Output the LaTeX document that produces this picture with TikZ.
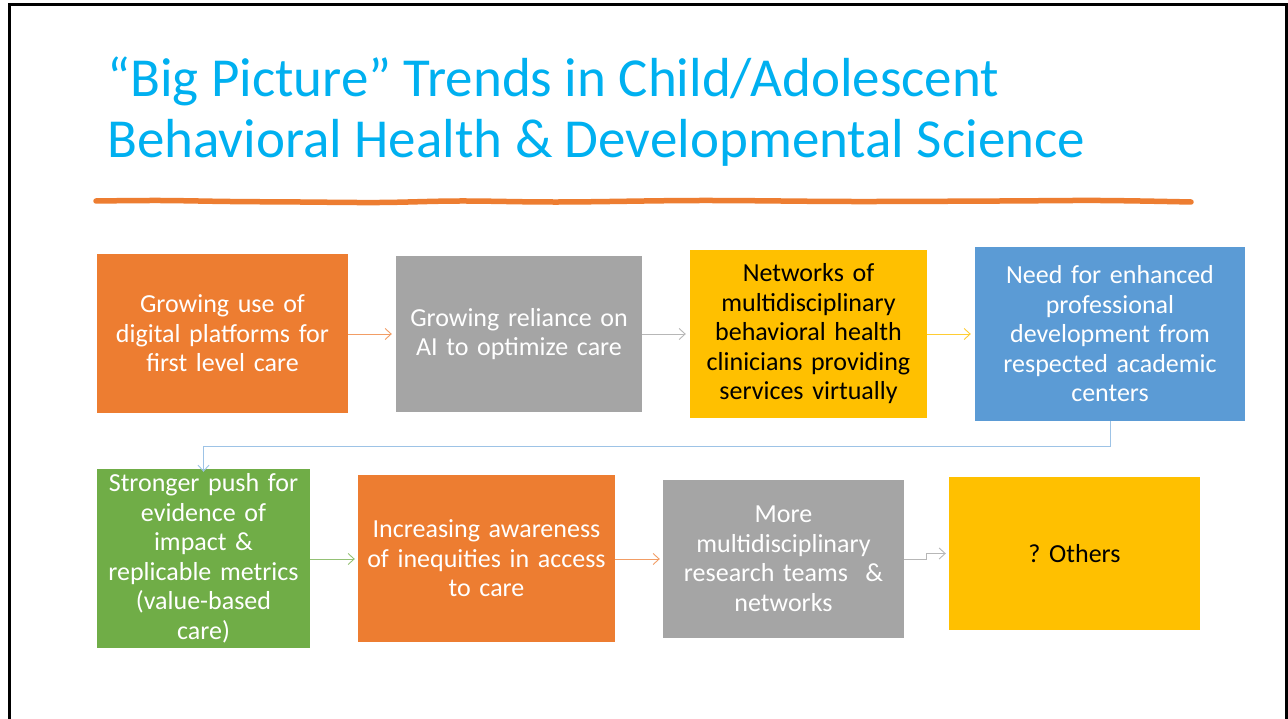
\documentclass[tikz,border=0pt]{standalone}
\usepackage{fontspec}
\setmainfont{Carlito}
\frenchspacing
\usetikzlibrary{arrows.meta}
\definecolor{cOrange}{HTML}{ED7D31}
\definecolor{cGray}{HTML}{A5A5A5}
\definecolor{cGold}{HTML}{FFC000}
\definecolor{cBlue}{HTML}{5B9BD5}
\definecolor{cGreen}{HTML}{70AD47}
\definecolor{cTitle}{HTML}{00B0F0}
\definecolor{cLink}{HTML}{9DC3E6}
\tikzset{
  trendbox/.style={draw=none, inner sep=0pt, align=center, font=\fontsize{26}{29.5}\selectfont},
  wtext/.style={text=white},
  btext/.style={text=black},
  titletext/.style={anchor=base west, inner sep=0pt, text=cTitle, font=\fontsize{55}{60}\selectfont},
  link/.style={line width=0.9pt, -{Straight Barb[length=6pt,width=11pt,line width=0.9pt]}},
}
\begin{document}
\begin{tikzpicture}[x=1pt,y=-1pt]
\useasboundingbox (0,0) rectangle (1288,719);
\fill[white] (0,0) rectangle (1288,719);
% slide frame
\draw[line width=3pt] (9,730) -- (9,5) -- (1286,5) -- (1286,730);
% title
\node[titletext] (t1) at (107,97) {“Big Picture” Trends in Child/Adolescent};
\node[titletext] (t2) at (107,158) {Behavioral Health \& Developmental Science};
% orange wavy rule
\draw[cOrange, line width=5.5pt, line cap=round] plot[smooth, tension=0.6] coordinates {(96,201) (160,200.5) (230,201.5) (300,202) (380,202.5) (460,201) (560,202) (700,200.5) (850,201.5) (1000,201) (1100,200.5) (1191,202)};
% row 1
\node[trendbox, wtext, fill=cOrange, minimum width=251pt, minimum height=159pt, text width=240pt] (b1) at (222.5,333.5) {Growing use of\\digital platforms for\\first level care};
\node[trendbox, wtext, fill=cGray, minimum width=246pt, minimum height=156pt, text width=240pt] (b2) at (519,334) {Growing reliance on\\AI to optimize care};
\node[trendbox, btext, fill=cGold, minimum width=237pt, minimum height=168pt, text width=235pt] (b3) at (808.5,334) {Networks of\\multidisciplinary\\behavioral health\\clinicians providing\\services virtually};
\node[trendbox, wtext, fill=cBlue, minimum width=270pt, minimum height=174pt, text width=260pt] (b4) at (1110,334) {Need for enhanced\\professional\\development from\\respected academic\\centers};
% row 2
\node[trendbox, wtext, fill=cGreen, minimum width=213pt, minimum height=179pt, text width=212pt] (b5) at (203.5,558.5) {Stronger push for\\evidence of\\impact \&\\replicable metrics\\(value-based\\care)};
\node[trendbox, wtext, fill=cOrange, minimum width=257pt, minimum height=167pt, text width=255pt] (b6) at (486.5,558.5) {Increasing awareness\\of inequities in access\\to care};
\node[trendbox, wtext, fill=cGray, minimum width=241pt, minimum height=158pt, text width=238pt] (b7) at (783.5,559) {More\\multidisciplinary\\research teams~~\&\\networks};
\node[trendbox, btext, fill=cGold, minimum width=251pt, minimum height=153pt, text width=240pt] (b8) at (1074.5,553.5) {? Others};
% connectors
\draw[link, draw=cOrange!75] (b1.east |- 0,334) -- ([xshift=-4pt]b2.west |- 0,334);
\draw[link, draw=cGray!80] (b2.east |- 0,334) -- ([xshift=-4pt]b3.west |- 0,334);
\draw[link, draw=cGold!80] (b3.east |- 0,334) -- ([xshift=-4pt]b4.west |- 0,334);
\coordinate (k1) at (1110,446);
\coordinate (k2) at (203.5,446);
\draw[link, draw=cLink] (b4.south) -- (k1) -- (k2) -- ([yshift=-3pt]b5.north);
\draw[link, draw=cGreen!75] (b5.east |- 0,559) -- ([xshift=-3pt]b6.west |- 0,559);
\draw[link, draw=cOrange!75] (b6.east |- 0,559) -- ([xshift=-3pt]b7.west |- 0,559);
\coordinate (e1) at (926,559);
\coordinate (e2) at (926,553.5);
\draw[link, draw=cGray!80] (b7.east |- e1) -- (e1) -- (e2) -- ([xshift=-3pt]b8.west);
\end{tikzpicture}
\end{document}
